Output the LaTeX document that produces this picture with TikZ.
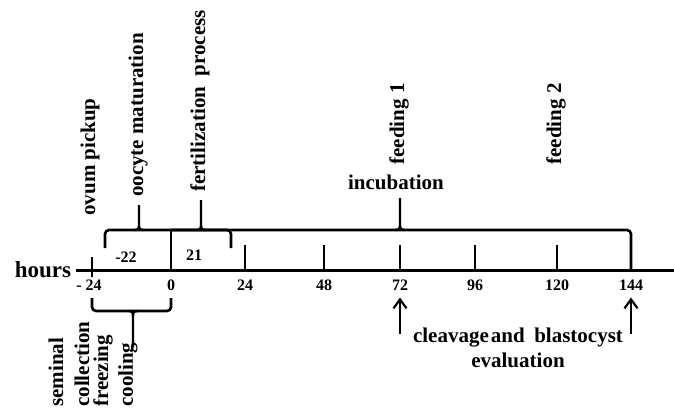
\documentclass[tikz,border=0pt]{standalone}
\usepackage{fontspec}
\setmainfont{Liberation Serif}
\usetikzlibrary{arrows.meta}
\begin{document}
\begin{tikzpicture}[x=1pt,y=-1pt,
  lab/.style={font=\fontsize{21}{25}\selectfont\bfseries, inner sep=0pt},
  vlab/.style={lab, rotate=90},
  num/.style={font=\fontsize{16}{19}\selectfont\bfseries, inner sep=0pt},
  axisline/.style={line width=3pt},
  tickline/.style={line width=2.3pt},
  brace/.style={line width=2.6pt, rounded corners=4pt},
  spike/.style={line width=2.3pt},
  uparrow/.style={line width=2.3pt, -{Straight Barb[length=9pt,width=13pt,line width=2.2pt]}},
]
\useasboundingbox (0,0) rectangle (674,409);

% axis
\node[lab, font=\fontsize{23}{27}\selectfont\bfseries, anchor=base] (hours) at (43,277) {hours};
\coordinate (axL) at (76,270);
\coordinate (axR) at (674,270);
\draw[axisline] (axL) -- (axR);

% ticks
\foreach \x in {245,324,400,475,557} \draw[tickline] (\x,245) -- (\x,270);
\draw[tickline] (92,257) -- (92,277);
\draw[tickline] (171,230) -- (171,270);

% tick labels
\node[num] (lm24) at (89,285) {- 24};
\node[num] (l0) at (171,285) {0};
\node[num] (l24) at (245,285) {24};
\node[num] (l48) at (324,285) {48};
\node[num] (l72) at (400,285) {72};
\node[num] (l96) at (475,285) {96};
\node[num] (l120) at (557,285) {120};
\node[num] (l144) at (631,285) {144};

% interval numbers
\node[num] (n22) at (126,257) {-22};
\node[num] (n21) at (194,255) {21};

% upper braces
\draw[brace] (105,248) -- (105,230) -- (171,230);
\draw[brace] (171,230) -- (231,230) -- (231,248);
\draw[brace] (171,230) -- (631,230) -- (631,270);
\foreach \sx/\sy in {139/205, 201/200, 400/198} {
  \draw[spike] ({\sx-5},230) .. controls ({\sx-1},230) and (\sx,229) .. (\sx,225) -- (\sx,\sy);
  \draw[spike] ({\sx+5},230) .. controls ({\sx+1},230) and (\sx,229) .. (\sx,225);
}

% lower brace
\draw[brace] (92,298) -- (92,311) -- (171,311) -- (171,298);
\draw[spike] (128,311) .. controls (132,311) and (133,312) .. (133,316) -- (133,347);
\draw[spike] (138,311) .. controls (134,311) and (133,312) .. (133,316);

% upper labels
\node[vlab] (ovum) at (90,157) {ovum pickup};
\node[vlab] (oocyte) at (138,115) {oocyte maturation};
\node[vlab] (fert) at (200,101) {fertilization\ \ process};
\node[vlab] (feed1) at (399,124) {feeding 1};
\node[vlab] (feed2) at (556,124) {feeding 2};
\node[lab] (incub) at (396,182) {incubation};

% lower labels
\node[vlab, anchor=west] (sem) at (56,407) {seminal};
\node[vlab, anchor=west] (coll) at (82,407) {collection};
\node[vlab, anchor=west] (freez) at (103,407) {freezing};
\node[vlab, anchor=west] (cool) at (128,407) {cooling};

% evaluation arrows
\coordinate (a72) at (400,334);
\coordinate (a144) at (631,334);
\draw[uparrow, shorten >=7pt] (a72) -- (l72.south);
\draw[uparrow, shorten >=7pt] (a144) -- (l144.south);
\node[lab, align=center] (cleav) at (518,348) {cleavage\hspace{0.1em}and\hspace{0.45em}blastocyst\\evaluation};
\end{tikzpicture}
\end{document}
